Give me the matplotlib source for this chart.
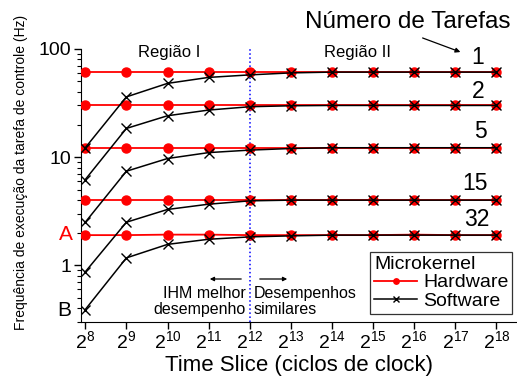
import numpy as np
import matplotlib

matplotlib.use("Agg")
import matplotlib.pyplot as plt
from matplotlib.ticker import FixedLocator, LogLocator, NullFormatter

plt.rcParams["font.family"] = ["Liberation Sans", "DejaVu Sans"]
plt.rcParams["mathtext.fontset"] = "custom"
plt.rcParams["mathtext.rm"] = "Liberation Sans"
plt.rcParams["mathtext.it"] = "Liberation Sans:italic"

# Time slice exponents (2^n clock cycles)
exponents = [8, 9, 10, 11, 12, 13, 14, 15, 16, 17, 18]
task_counts = ["1", "2", "5", "15", "32"]

# Hardware microkernel: flat frequency per task count (Hz)
hw_1 = [61, 61, 61, 61, 61, 61, 61, 61, 61, 61, 61]
hw_2 = [30, 30, 30, 30, 30, 30, 30, 30, 30, 30, 30]
hw_5 = [12.2, 12.2, 12.2, 12.2, 12.2, 12.2, 12.2, 12.2, 12.2, 12.2, 12.2]
hw_15 = [4.0, 4.0, 4.0, 4.0, 4.0, 4.0, 4.0, 4.0, 4.0, 4.0, 4.0]
hw_32 = [1.9, 1.9, 1.92, 1.92, 1.9, 1.9, 1.9, 1.9, 1.92, 1.9, 1.9]

# Software microkernel
sw_1 = [12.2, 36, 48, 54.5, 57.5, 60, 61, 61, 61, 61, 61]
sw_2 = [6.2, 18.4, 24.1, 27.2, 29.2, 29.8, 30, 30, 30, 30, 30]
sw_5 = [2.5, 7.4, 9.7, 11.0, 11.6, 12.0, 12.2, 12.2, 12.2, 12.2, 12.2]
sw_15 = [0.87, 2.5, 3.28, 3.67, 3.94, 4.0, 4.0, 4.0, 4.0, 4.0, 4.0]
sw_32 = [0.39, 1.17, 1.56, 1.74, 1.83, 1.87, 1.9, 1.9, 1.9, 1.9, 1.9]

hw_series = [hw_1, hw_2, hw_5, hw_15, hw_32]
sw_series = [sw_1, sw_2, sw_5, sw_15, sw_32]

W, H = 517, 376
fig = plt.figure(figsize=(W / 100, H / 100), dpi=100)
ax = fig.add_axes([0.157, 0.144, 0.843, 0.726])


def px(xp, yp):
    """pixel position (from top-left) -> figure fraction"""
    return xp / W, 1 - yp / H


x = np.array(exponents, dtype=float)
for i, (hw, sw) in enumerate(zip(hw_series, sw_series)):
    ax.plot(x, hw, color="red", lw=1.3, marker="o", ms=6.5,
            markeredgecolor="red", label="Hardware" if i == 0 else None, zorder=3)
    ax.plot(x, sw, color="black", lw=1.1, marker="x", ms=7, mew=1.0,
            label="Software" if i == 0 else None, zorder=4)

ax.set_yscale("log")
ax.set_xlim(7.9, 18.5)
ax.set_ylim(0.3, 100)
ax.axvline(12, color="blue", ls=":", lw=1.1, zorder=2)

ax.set_xticks(exponents)
ax.set_xticklabels([f"$\\mathregular{{2^{{{e}}}}}$" for e in exponents], fontsize=14)
ax.yaxis.set_major_locator(FixedLocator([1, 10, 100]))
ax.set_yticklabels(["1", "10", "100"], fontsize=14)
ax.yaxis.set_minor_locator(LogLocator(base=10, subs=np.arange(2, 10)))
ax.yaxis.set_minor_formatter(NullFormatter())
ax.tick_params(axis="both", which="major", length=5, width=1.0, direction="out")
ax.tick_params(axis="y", which="minor", length=3, width=0.8)
ax.tick_params(axis="x", pad=1)
ax.tick_params(axis="y", pad=2)

for side in ["top", "right"]:
    ax.spines[side].set_visible(False)

ax.set_xlabel("Time Slice (ciclos de clock)", fontsize=16, labelpad=2)
ax.set_ylabel("Frequência de execução da tarefa de controle (Hz)", fontsize=10)
ax.yaxis.set_label_coords(*ax.transAxes.inverted().transform(
    fig.transFigure.transform(px(28, 172))))

# Region labels
fig.text(*px(169, 53), "Região I", fontsize=12, ha="center", va="center")
fig.text(*px(358, 53), "Região II", fontsize=12, ha="center", va="center")

# Number of tasks
fig.text(*px(408, 22), "Número de Tarefas", fontsize=17.5, ha="center", va="center")
ax.annotate("", xy=px(463, 53), xytext=px(420, 37), xycoords="figure fraction",
            textcoords="figure fraction",
            arrowprops=dict(arrowstyle="-|>", color="black", lw=0.9, mutation_scale=7))
label_pos = [(478, 57), (478, 91), (480, 132), (475, 184), (477, 219)]
for lbl, (lx, ly) in zip(task_counts, label_pos):
    fig.text(*px(lx, ly), lbl, fontsize=16.5, ha="center", va="center")

# A / B markers on the left
fig.text(*px(66, 234), "A", color="red", fontsize=15, ha="center", va="center")
fig.text(*px(64, 310), "B", color="black", fontsize=15, ha="center", va="center")

# Performance region notes
ax.annotate("", xy=px(207, 279), xytext=px(244, 279), xycoords="figure fraction",
            textcoords="figure fraction",
            arrowprops=dict(arrowstyle="-|>", color="black", lw=0.9, mutation_scale=6))
ax.annotate("", xy=px(290, 279), xytext=px(257, 279), xycoords="figure fraction",
            textcoords="figure fraction",
            arrowprops=dict(arrowstyle="-|>", color="black", lw=0.9, mutation_scale=6))
fig.text(*px(246, 286), "IHM melhor\ndesempenho", fontsize=11.5, ha="right", va="top",
         linespacing=1.05)
fig.text(*px(254, 286), "Desempenhos\nsimilares", fontsize=11.5, ha="left", va="top",
         linespacing=1.05)

leg = ax.legend(title="Microkernel", loc="lower right", bbox_to_anchor=(0.998, 0.015),
                fontsize=14, title_fontsize=14, frameon=True, fancybox=False,
                handlelength=2.2, handletextpad=0.3, borderpad=0.2,
                labelspacing=0.05, markerscale=0.6, borderaxespad=0.2)
leg.get_frame().set_edgecolor("black")
leg.get_frame().set_linewidth(0.9)
leg._legend_box.align = "left"

fig.savefig("out.png", dpi=100)
